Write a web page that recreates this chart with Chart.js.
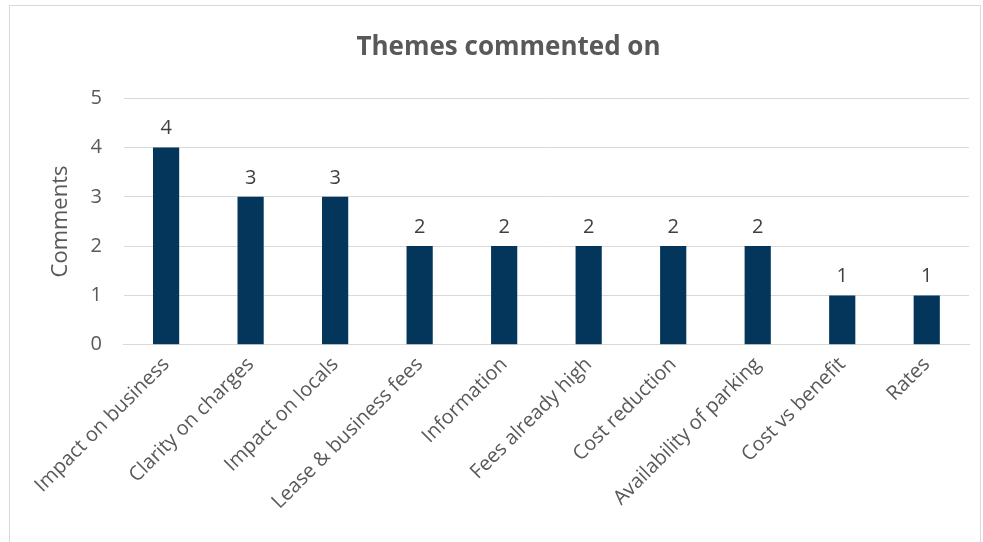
<!DOCTYPE html>
<html>
<head>
<meta charset="utf-8">
<script src="https://cdn.jsdelivr.net/npm/chart.js@4/dist/chart.umd.min.js"></script>
<style>
  html, body { margin: 0; padding: 0; background: #fff; overflow: hidden; }
  #wrap { position: absolute; left: 0; top: 0; width: 983px; height: 542px; }
  #frame { position: absolute; left: 9px; top: 5px; width: 970px; height: 600px; border: 1px solid #d9d9d9; pointer-events: none; }
</style>
</head>
<body>
<div id="wrap"><canvas id="c" width="983" height="542"></canvas></div>
<div id="frame"></div>
<script>
const categories = ["Impact on business", "Clarity on charges", "Impact on locals", "Lease & business fees", "Information", "Fees already high", "Cost reduction", "Availability of parking", "Cost vs benefit", "Rates"];
const comments = [4, 3, 3, 2, 2, 2, 2, 2, 1, 1];
const yTicks = [0, 1, 2, 3, 4, 5];

const FONT = "'Open Sans', 'Liberation Sans', sans-serif";

const valueLabels = {
  id: 'valueLabels',
  afterDatasetsDraw(chart) {
    const ctx = chart.ctx;
    const meta = chart.getDatasetMeta(0);
    ctx.save();
    ctx.font = "20px " + FONT;
    ctx.fillStyle = '#404040';
    ctx.textAlign = 'center';
    ctx.textBaseline = 'bottom';
    meta.data.forEach((bar, i) => {
      ctx.fillText(String(chart.data.datasets[0].data[i]), bar.x, bar.y - 9);
    });
    ctx.restore();
  }
};

new Chart(document.getElementById('c'), {
  type: 'bar',
  data: {
    labels: categories,
    datasets: [{
      data: comments,
      backgroundColor: '#03365A',
      borderWidth: 0,
      barPercentage: 0.62,
      categoryPercentage: 0.5
    }]
  },
  options: {
    responsive: false,
    animation: false,
    layout: { padding: { left: 48, right: 14, top: 0, bottom: 20 } },
    plugins: {
      legend: { display: false },
      tooltip: { enabled: false },
      title: {
        display: true,
        text: 'Themes commented on',
        color: '#595959',
        font: { family: FONT, size: 26, weight: 'bold' },
        padding: { top: 32, bottom: 35 }
      }
    },
    scales: {
      x: {
        grid: { display: false, drawTicks: false },
        border: { color: '#d9d9d9', width: 1 },
        ticks: {
          color: '#595959',
          font: { family: FONT, size: 20 },
          maxRotation: 45,
          minRotation: 45,
          padding: 8,
          autoSkip: false
        }
      },
      y: {
        min: 0,
        max: 5,
        afterBuildTicks(axis) { axis.ticks = yTicks.map(v => ({ value: v })); },
        grid: { color: '#d9d9d9', lineWidth: 1, drawTicks: false },
        border: { display: false },
        ticks: {
          color: '#595959',
          font: { family: FONT, size: 20 },
          padding: 22
        },
        title: {
          display: true,
          text: 'Comments',
          color: '#595959',
          font: { family: FONT, size: 22 },
          padding: { top: 0, bottom: -6 }
        }
      }
    }
  },
  plugins: [valueLabels]
});
</script>
</body>
</html>
